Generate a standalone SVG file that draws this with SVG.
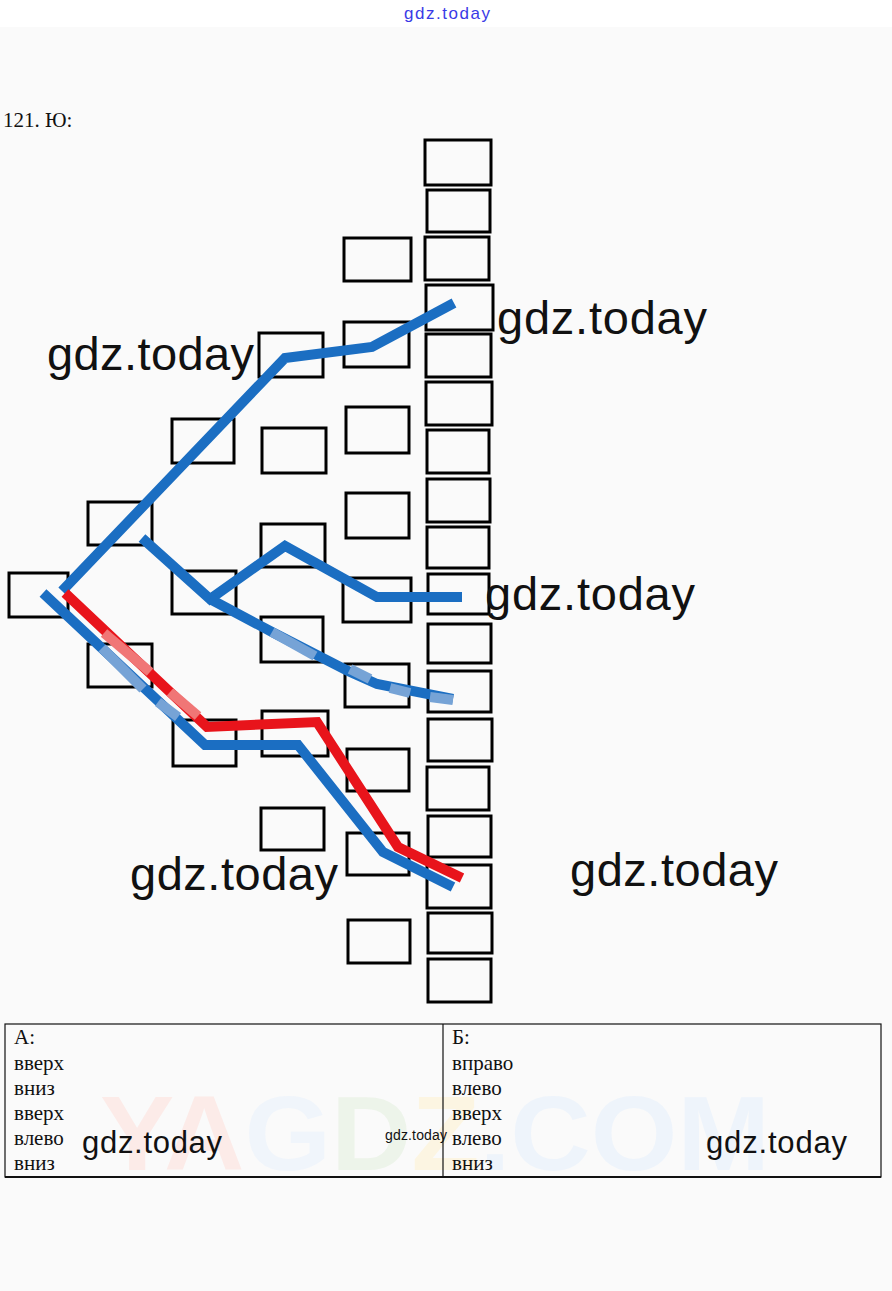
<svg xmlns="http://www.w3.org/2000/svg" width="892" height="1291" viewBox="0 0 892 1291">
<style>
.bx{fill:none;stroke:#000;stroke-width:3}
.bl{fill:none;stroke:#1b6ec2;stroke-width:10;stroke-linejoin:miter;stroke-linecap:butt}
.rd{fill:none;stroke:#e8141b;stroke-width:10;stroke-linejoin:miter;stroke-linecap:butt}
.lb{fill:none;stroke:#76a3d6;stroke-width:10}
.lr{fill:none;stroke:#f07676;stroke-width:10}
.wm{font-family:"Liberation Sans",Arial,sans-serif;fill:#111;font-weight:normal}
.sr{font-family:"Liberation Serif","Times New Roman",serif;font-size:21px;fill:#111}
.tb{stroke:#111;stroke-width:1.2;fill:none}
</style>
<rect x="0" y="0" width="892" height="1291" fill="#fafafa"/>
<rect x="0" y="0" width="892" height="27" fill="#ffffff"/>
<text x="447" y="19" text-anchor="middle" font-family="Liberation Sans,Arial,sans-serif" font-size="17" fill="#3a3ae6" textLength="86">gdz.today</text>
<text x="3" y="127" class="sr" font-size="17">121. Ю:</text>

<!-- faint watermark in table -->
<text id="watermark" x="100" y="1170" font-family="Liberation Sans,Arial,sans-serif" font-weight="bold" font-size="105" textLength="670" lengthAdjust="spacingAndGlyphs"><tspan fill="#fcebe8">YA</tspan><tspan fill="#f0f5fb">G</tspan><tspan fill="#edf4ea">D</tspan><tspan fill="#fcf5e2">Z</tspan><tspan fill="#eef4fb">.COM</tspan></text>

<g id="col5">
<rect class="bx" x="425" y="140" width="66" height="45"/>
<rect class="bx" x="427" y="190" width="63" height="42"/>
<rect class="bx" x="425" y="237" width="64" height="43"/>
<rect class="bx" x="426" y="285" width="67" height="45"/>
<rect class="bx" x="426" y="334" width="65" height="43"/>
<rect class="bx" x="426" y="382" width="66" height="43"/>
<rect class="bx" x="427" y="430" width="62" height="43"/>
<rect class="bx" x="427" y="479" width="63" height="43"/>
<rect class="bx" x="427" y="527" width="62" height="41"/>
<rect class="bx" x="428" y="574" width="61" height="40"/>
<rect class="bx" x="428" y="624" width="63" height="39"/>
<rect class="bx" x="428" y="671" width="63" height="41"/>
<rect class="bx" x="428" y="719" width="64" height="42"/>
<rect class="bx" x="427" y="767" width="62" height="43"/>
<rect class="bx" x="428" y="816" width="63" height="41"/>
<rect class="bx" x="427" y="865" width="64" height="43"/>
<rect class="bx" x="428" y="913" width="64" height="40"/>
<rect class="bx" x="428" y="959" width="63" height="43"/>
</g>
<g id="col4">
<rect class="bx" x="344" y="238" width="67" height="43"/>
<rect class="bx" x="344" y="322" width="65" height="45"/>
<rect class="bx" x="346" y="407" width="63" height="46"/>
<rect class="bx" x="346" y="493" width="63" height="45"/>
<rect class="bx" x="343" y="578" width="68" height="44"/>
<rect class="bx" x="345" y="664" width="64" height="43" stroke="#666" stroke-width="2"/>
<rect class="bx" x="347" y="749" width="62" height="42"/>
<rect class="bx" x="347" y="833" width="62" height="42"/>
<rect class="bx" x="348" y="920" width="62" height="43"/>
</g>
<g id="col3">
<rect class="bx" x="259" y="333" width="64" height="44"/>
<rect class="bx" x="262" y="428" width="64" height="45"/>
<rect class="bx" x="261" y="524" width="64" height="43"/>
<rect class="bx" x="261" y="617" width="62" height="45"/>
<rect class="bx" x="262" y="711" width="66" height="45"/>
<rect class="bx" x="261" y="808" width="63" height="42"/>
</g>
<g id="col2">
<rect class="bx" x="172" y="419" width="62" height="44"/>
<rect class="bx" x="172" y="571" width="64" height="43"/>
<rect class="bx" x="173" y="720" width="63" height="46"/>
</g>
<g id="col1">
<rect class="bx" x="88" y="502" width="64" height="43"/>
<rect class="bx" x="88" y="644" width="64" height="43"/>
</g>
<g id="col0">
<rect class="bx" x="9" y="573" width="59" height="44"/>
</g>

<g id="connectors">
<polyline class="bl" points="62,591 285,358 372,347 454,303"/>
<polyline class="bl" points="142,538 210,599 285,546 377,597 462,597"/>
<polyline class="bl" points="210,599 272,632 348,671 377,684 453,699"/>
<polyline class="lb" points="272,632 315,656"/>
<polyline class="lb" points="350,669 370,679"/>
<polyline class="lb" points="390,688 410,693"/>
<polyline class="lb" points="430,697 453,700"/>
<polyline class="bl" points="43,593 205,745 298,745 383,852 453,887"/>
<polyline class="lb" points="102,648 143,689"/>
<polyline class="lb" points="158,702 178,717"/>
<polyline class="rd" points="65,593 207,727 317,722 398,847 462,878"/>
<polyline class="lr" points="104,633 150,672"/>
<polyline class="lr" points="170,692 198,716"/>
</g>

<g id="marks">
<text class="wm" x="47" y="370" font-size="47" textLength="207">gdz.today</text>
<text class="wm" x="497" y="334" font-size="47" textLength="210">gdz.today</text>
<text class="wm" x="485" y="610" font-size="47" textLength="210">gdz.today</text>
<text class="wm" x="130" y="890" font-size="47" textLength="208">gdz.today</text>
<text class="wm" x="570" y="886" font-size="47" textLength="208">gdz.today</text>
</g>

<g id="table">
<rect class="tb" x="5" y="1024" width="876" height="153"/>
<line x1="5" y1="1177" x2="881" y2="1177" stroke="#111" stroke-width="2"/>
<line class="tb" x1="443" y1="1024" x2="443" y2="1177"/>
<text class="sr" x="14" y="1044">А:</text>
<text class="sr" x="14" y="1070">вверх</text>
<text class="sr" x="14" y="1095">вниз</text>
<text class="sr" x="14" y="1120">вверх</text>
<text class="sr" x="14" y="1145">влево</text>
<text class="sr" x="14" y="1170">вниз</text>
<text class="sr" x="452" y="1044">Б:</text>
<text class="sr" x="452" y="1070">вправо</text>
<text class="sr" x="452" y="1095">влево</text>
<text class="sr" x="452" y="1120">вверх</text>
<text class="sr" x="452" y="1145">влево</text>
<text class="sr" x="452" y="1170">вниз</text>
<text class="wm" x="82" y="1153" font-size="31" textLength="140">gdz.today</text>
<text class="wm" x="706" y="1153" font-size="31" textLength="141">gdz.today</text>
<text class="wm" x="385" y="1140" font-size="14" textLength="62">gdz.today</text>
</g>
</svg>
